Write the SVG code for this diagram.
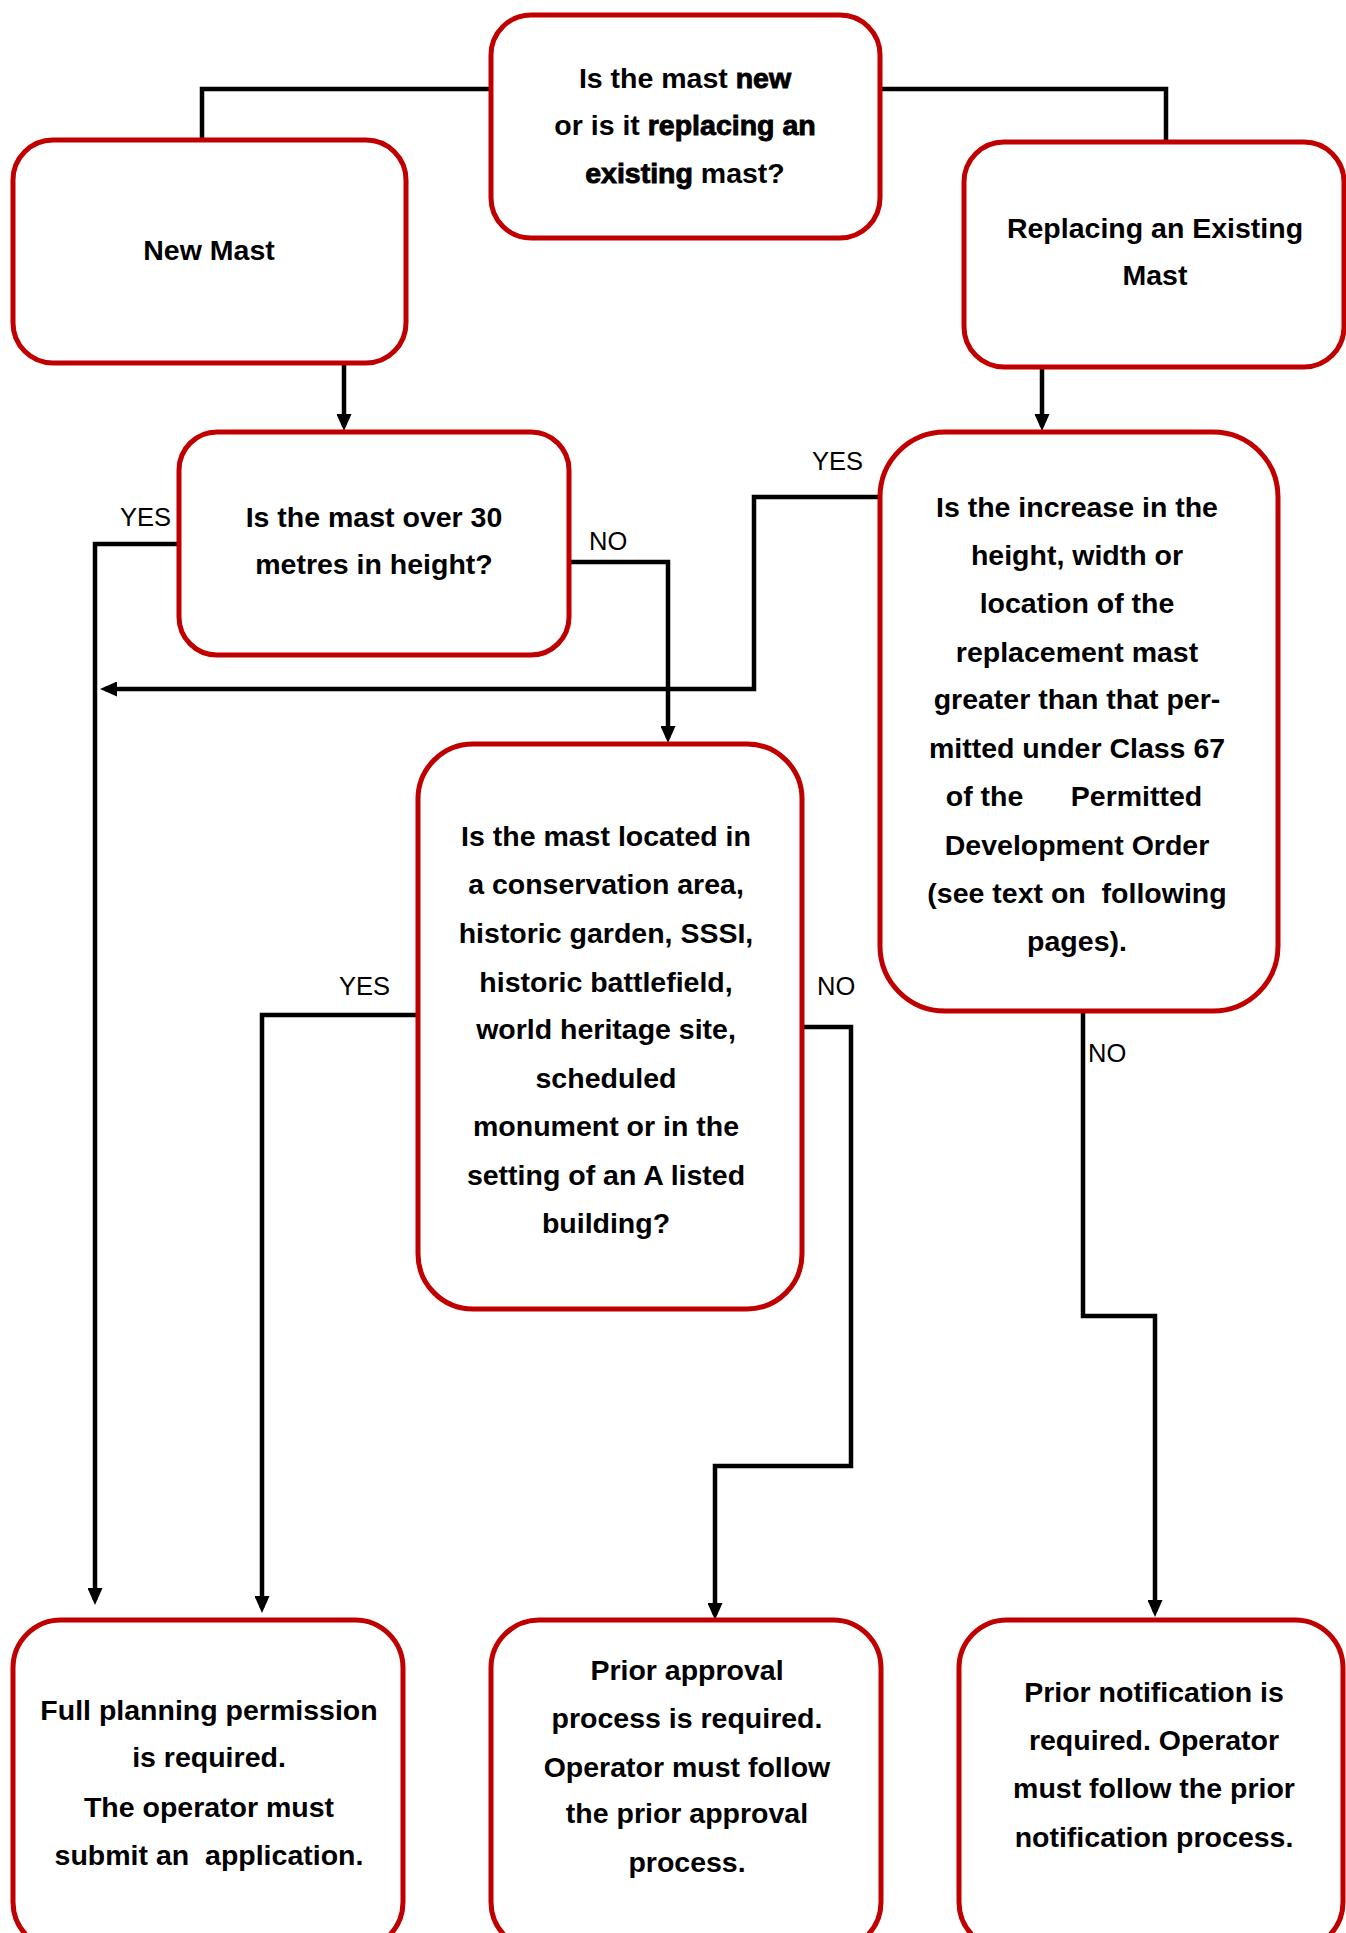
<svg xmlns="http://www.w3.org/2000/svg" width="1346" height="1933" viewBox="0 0 1346 1933">
<style>
.box{fill:#fff;stroke:#C00000;stroke-width:5}
.t{font-family:"Liberation Sans",Arial,sans-serif;font-weight:bold;font-size:28.5px;fill:#000;text-anchor:middle}
.em{stroke:#000;stroke-width:0.9}
.lbl{font-family:"Liberation Sans",Arial,sans-serif;font-size:25.5px;fill:#000}
.c{fill:none;stroke:#000;stroke-width:4.5}
.ca{fill:none;stroke:#000;stroke-width:4.5;marker-end:url(#ah)}
</style>
<defs>
<marker id="ah" markerUnits="userSpaceOnUse" markerWidth="17" markerHeight="15" refX="12" refY="7.5" orient="auto">
<path d="M0,0 L17,7.5 L0,15 Z" fill="#000"/>
</marker>
</defs>
<rect width="1346" height="1933" fill="#fff"/>
<g id="connectors">
<path class="c" d="M491,89 H202 V140"/>
<path class="c" d="M880,89 H1166 V142"/>
<path class="ca" d="M344,363 V426"/>
<path class="ca" d="M1042,367 V426"/>
<path class="ca" d="M569,562 H668 V738"/>
<path class="ca" d="M880,497 H754 V689 H105"/>
<path class="ca" d="M179,544 H95 V1600"/>
<path class="ca" d="M418,1015 H262 V1608"/>
<path class="ca" d="M802,1027 H851 V1466 H715 V1615"/>
<path class="ca" d="M1083,1011 V1316 H1155 V1612"/>
<text class="lbl" x="120" y="526">YES</text>
<text class="lbl" x="589" y="550">NO</text>
<text class="lbl" x="812" y="470">YES</text>
<text class="lbl" x="339" y="995">YES</text>
<text class="lbl" x="817" y="995">NO</text>
<text class="lbl" x="1088" y="1062">NO</text>
</g>
<g id="n-top">
<rect class="box" x="491" y="15" width="389" height="223" rx="40"/>
<text class="t" x="685" y="88">Is the mast <tspan class="em">new</tspan></text>
<text class="t" x="685" y="135">or is it <tspan class="em">replacing an</tspan></text>
<text class="t" x="685" y="183"><tspan class="em">existing</tspan> mast?</text>
</g>
<g id="n-new">
<rect class="box" x="13" y="140" width="393" height="223" rx="40"/>
<text class="t" x="209" y="260">New Mast</text>
</g>
<g id="n-replace">
<rect class="box" x="964" y="142" width="380" height="225" rx="40"/>
<text class="t" x="1155" y="238">Replacing an Existing</text>
<text class="t" x="1155" y="285">Mast</text>
</g>
<g id="n-q30">
<rect class="box" x="179" y="432" width="390" height="223" rx="38"/>
<text class="t" x="374" y="527">Is the mast over 30</text>
<text class="t" x="374" y="574">metres in height?</text>
</g>
<g id="n-increase">
<rect class="box" x="880" y="432" width="398" height="579" rx="65"/>
<text class="t" x="1077" y="517">Is the increase in the</text>
<text class="t" x="1077" y="565">height, width or</text>
<text class="t" x="1077" y="613">location of the</text>
<text class="t" x="1077" y="662">replacement mast</text>
<text class="t" x="1077" y="709">greater than that per-</text>
<text class="t" x="1077" y="758">mitted under Class 67</text>
<text class="t" x="1074" y="806" xml:space="preserve">of the      Permitted</text>
<text class="t" x="1077" y="855">Development Order</text>
<text class="t" x="1077" y="903" xml:space="preserve">(see text on  following</text>
<text class="t" x="1077" y="951">pages).</text>
</g>
<g id="n-conservation">
<rect class="box" x="418" y="744" width="384" height="565" rx="55"/>
<text class="t" x="606" y="846">Is the mast located in</text>
<text class="t" x="606" y="894">a conservation area,</text>
<text class="t" x="606" y="943">historic garden, SSSI,</text>
<text class="t" x="606" y="992">historic battlefield,</text>
<text class="t" x="606" y="1039">world heritage site,</text>
<text class="t" x="606" y="1088">scheduled</text>
<text class="t" x="606" y="1136">monument or in the</text>
<text class="t" x="606" y="1185">setting of an A listed</text>
<text class="t" x="606" y="1233">building?</text>
</g>
<g id="n-full">
<rect class="box" x="13" y="1620" width="390" height="330" rx="48"/>
<text class="t" x="209" y="1720">Full planning permission</text>
<text class="t" x="209" y="1767">is required.</text>
<text class="t" x="209" y="1817">The operator must</text>
<text class="t" x="209" y="1865" xml:space="preserve">submit an  application.</text>
</g>
<g id="n-approval">
<rect class="box" x="491" y="1620" width="390" height="330" rx="48"/>
<text class="t" x="687" y="1680">Prior approval</text>
<text class="t" x="687" y="1728">process is required.</text>
<text class="t" x="687" y="1777">Operator must follow</text>
<text class="t" x="687" y="1823">the prior approval</text>
<text class="t" x="687" y="1872">process.</text>
</g>
<g id="n-notification">
<rect class="box" x="959" y="1620" width="384" height="330" rx="48"/>
<text class="t" x="1154" y="1702">Prior notification is</text>
<text class="t" x="1154" y="1750">required. Operator</text>
<text class="t" x="1154" y="1798">must follow the prior</text>
<text class="t" x="1154" y="1847">notification process.</text>
</g>
</svg>
